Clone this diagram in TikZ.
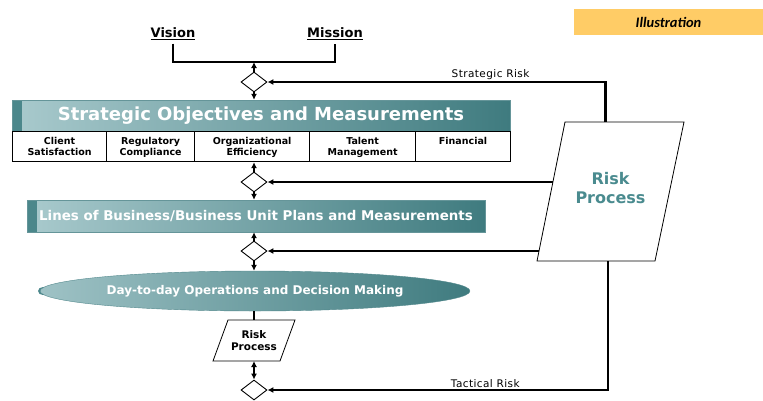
\documentclass[tikz,border=0pt]{standalone}
\usepackage{fontspec}
\setmainfont{DejaVu Sans}
\newfontfamily\riskfont[LetterSpace=4]{DejaVu Sans}
\newfontfamily\notefont{Carlito}
\usetikzlibrary{arrows.meta}
\usetikzlibrary{shapes.geometric}
\usetikzlibrary{calc,positioning}

\definecolor{tealL}{HTML}{A9CACD}
\definecolor{tealD}{HTML}{3F7B7F}
\definecolor{tealS}{HTML}{4B878B}
\definecolor{tealT}{HTML}{4A8B8F}
\definecolor{noteY}{HTML}{FFCC66}

\begin{document}
\begin{tikzpicture}[>={Latex[length=6pt,width=6pt]}, x=1pt, y=-1pt,
    band/.style={shading=axis, left color=tealL, right color=tealD, draw=tealD!80, inner sep=0pt, text=white,
        path picture={\fill[tealS] (path picture bounding box.north west) rectangle ([xshift=10pt]path picture bounding box.south west);}},
    cell/.style={draw, line width=1.2pt, minimum height=30pt, inner sep=0pt, anchor=north west},
    gate/.style={diamond, draw, line width=0.9pt, fill=white, minimum width=26pt, minimum height=20pt, inner sep=0pt},
    flow/.style={line width=2.2pt},
    skew/.style={draw, fill=white, line width=0.8pt},
    risklabel/.style={above, inner sep=1.5pt, font=\riskfont\fontsize{10.5}{12}\selectfont}
]

    \useasboundingbox (0,0) rectangle (763,400);

    \node[fill=noteY, minimum width=189pt, minimum height=26pt, inner sep=0pt, font=\notefont\bfseries\itshape\fontsize{14.5}{16}\selectfont] (note) at (668.5,22) {Illustration};

    \node[font=\bfseries\fontsize{13}{15}\selectfont] (vis) at (173,34) {\underline{Vision}};
    \node[font=\bfseries\fontsize{13}{15}\selectfont] (mis) at (335,34) {\underline{Mission}};
    \coordinate (jn) at (254,62);

    % decision points
    \node[gate] (d1) at (254,82) {};
    \node[gate] (d2) at (254,182) {};
    \node[gate] (d3) at (254,251) {};
    \node[gate] (d4) at (254,390) {};

    \node[band, minimum width=498pt, minimum height=31pt, font=\bfseries\fontsize{18}{20}\selectfont] (sobj) at (261,115.5) {Strategic Objectives and Measurements};

    \foreach \x/\w/\t [count=\i] in {12/94/{Client\\Satisfaction}, 106/88/{Regulatory\\Compliance},
        194/115/{Organizational\\Efficiency}, 309/106/{Talent\\Management}, 415/95/{Financial}} {
        \node[cell, minimum width=\w pt] (c\i) at (\x,131) {};
        \node[anchor=north, align=center, inner sep=1pt, font=\bfseries\fontsize{9.5}{11}\selectfont] (t\i) at ([yshift=-5pt]c\i.north) {\t};
    }

    \node[band, minimum width=458pt, minimum height=32pt, font=\bfseries\fontsize{13.4}{15}\selectfont] (lob) at (256,216) {Lines of Business/Business Unit Plans and Measurements};

    \fill[tealS] (43,291) ellipse (5 and 4);
    \node[ellipse, shading=axis, left color=tealL!90!tealD, right color=tealD, draw=tealD!90, minimum width=430pt, minimum height=40pt, inner sep=0pt,
        text=white, font=\bfseries\fontsize{12}{14}\selectfont] (ops) at (255,291) {Day-to-day Operations and Decision Making};

    % risk process boxes
    \draw[skew] (213,361) coordinate (rsbl) -- (228,320) coordinate (rstl)
        -- (295,320) coordinate (rstr) -- (280,361) coordinate (rsbr) -- cycle;
    \node[align=center, font=\bfseries\fontsize{10.5}{12.5}\selectfont] (rps) at (254,340.5) {Risk\\Process};

    \draw[skew] (537,261) coordinate (rpbl) -- (565,122) coordinate (rptl)
        -- (684,122) coordinate (rptr) -- (655,261) coordinate (rpbr) -- cycle;
    \node[align=center, text=tealT, font=\bfseries\fontsize{16}{19}\selectfont] (rp) at (610.5,188) {Risk\\Process};

    % main flow
    \draw[flow] (vis.south) |- (jn) -| (mis.south);
    \draw[flow, ->] (d1.north) -- (jn);
    \draw[flow, ->] (d1.south) -- (d1 |- sobj.north);
    \draw[flow, ->] (d2.north) -- (d2 |- c3.south);
    \draw[flow, ->] (d2.south) -- (d2 |- lob.north);
    \draw[flow, ->] (d3.north) -- (d3 |- lob.south);
    \draw[flow, ->] (d3.south) -- (d3 |- ops.north);
    \draw[flow] (d3 |- ops.south) -- (d3 |- rstl);
    \draw[flow, <->] (d4 |- rsbl) -- (d4.north);

    % feedback from the risk process
    \coordinate (rpt) at ($(rptl)!0.34!(rptr)$);
    \coordinate (rpm) at ($(rpbl)!0.568!(rptl)$);
    \coordinate (rpn) at ($(rpbl)!0.072!(rptl)$);
    \coordinate (rpb) at ($(rpbl)!0.6!(rpbr)$);

    \draw[flow, ->] (rpt) |- (d1.east) node[risklabel, pos=0.67] (srisk) {Strategic Risk};
    \draw[flow, ->] (d2 -| rpm) -- (d2.east);
    \draw[flow, ->] (d3 -| rpn) -- (d3.east);
    \draw[flow, ->] (rpb) |- (d4.east) node[risklabel, pos=0.68] (trisk) {Tactical Risk};

\end{tikzpicture}
\end{document}
